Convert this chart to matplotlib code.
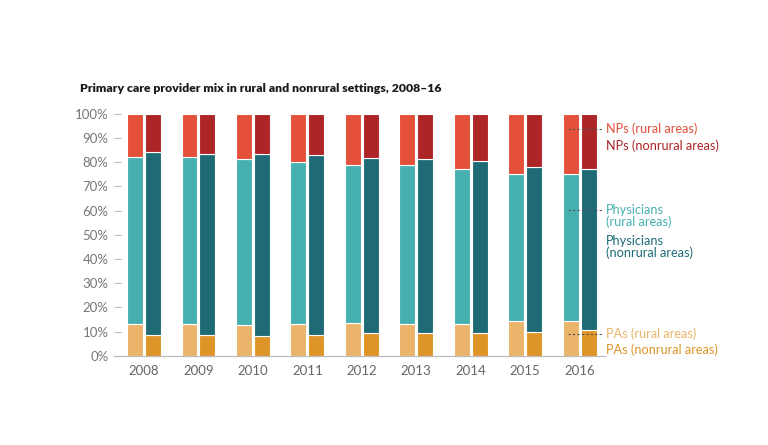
import numpy as np
import matplotlib.pyplot as plt

years = ["2008", "2009", "2010", "2011", "2012", "2013", "2014", "2015", "2016"]

# shares (%)
pa_rural = [13.1, 13.0, 12.6, 13.0, 13.4, 13.2, 13.2, 14.2, 14.2]
phys_rural = [69.2, 69.1, 68.6, 67.0, 65.4, 65.6, 64.2, 60.8, 60.8]
np_rural = [17.7, 17.9, 18.8, 20.0, 21.2, 21.2, 22.6, 25.0, 25.0]

pa_nonrural = [8.7, 8.7, 8.3, 8.7, 9.2, 9.2, 9.5, 9.8, 10.6]
phys_nonrural = [75.7, 74.7, 75.1, 74.3, 72.7, 72.3, 70.9, 68.3, 66.8]
np_nonrural = [15.6, 16.6, 16.6, 17.0, 18.1, 18.5, 19.6, 21.9, 22.6]

c_np_r, c_np_n = "#e4503a", "#ae2527"
c_ph_r, c_ph_n = "#46b0b0", "#1e6b77"
c_pa_r, c_pa_n = "#eab46b", "#df9428"

plt.rcParams['font.family'] = ['Lato', 'DejaVu Sans']

fig = plt.figure(figsize=(7.68, 4.45), dpi=100)
ax = fig.add_axes([0.1484, 0.2007, 0.6393, 0.5434])

x = np.arange(len(years))
w = 0.29
off = 0.165

def stack(xpos, pa, ph, npv, cols):
    pa = np.array(pa) / 100
    ph = np.array(ph) / 100
    npv = np.array(npv) / 100
    kw = dict(width=w, edgecolor="white", linewidth=0.8)
    ax.bar(xpos, pa, color=cols[0], **kw)
    ax.bar(xpos, ph, bottom=pa, color=cols[1], **kw)
    ax.bar(xpos, npv, bottom=pa + ph, color=cols[2], **kw)

stack(x - off, pa_rural, phys_rural, np_rural, [c_pa_r, c_ph_r, c_np_r])
stack(x + off, pa_nonrural, phys_nonrural, np_nonrural, [c_pa_n, c_ph_n, c_np_n])

ax.set_xlim(-0.55, 8.464)
ax.set_ylim(0, 1)
ax.set_yticks(np.arange(0, 1.01, 0.1))
ax.set_yticklabels([f"{int(v)}%" for v in np.arange(0, 101, 10)])
ax.set_xticks(x)
ax.set_xticklabels(years)
ax.tick_params(axis="y", direction="in", length=5, width=0.8, color="#bbbbbb",
               pad=4, labelsize=9.5, labelcolor="#777777")
ax.tick_params(axis="x", length=0, pad=7, labelsize=9.5, labelcolor="#666666")
for s in ["top", "right", "left"]:
    ax.spines[s].set_visible(False)
ax.spines["bottom"].set_color("#bbbbbb")
ax.spines["bottom"].set_linewidth(0.9)

# leader lines and labels on the right
for yy in [0.938, 0.603, 0.09]:
    ax.plot([7.785, 8.42], [yy, yy], linestyle=(0, (2, 2)), color="#555555",
            linewidth=0.8, clip_on=False)

lx = 8.49
labels = [
    ("NPs (rural areas)", 0.9375, c_np_r),
    ("NPs (nonrural areas)", 0.867, c_np_n),
    ("Physicians\n(rural areas)", 0.578, c_ph_r),
    ("Physicians\n(nonrural areas)", 0.4495, c_ph_n),
    ("PAs (rural areas)", 0.09, c_pa_r),
    ("PAs (nonrural areas)", 0.024, c_pa_n),
]
for txt, yy, col in labels:
    ax.text(lx, yy, txt, color=col, fontsize=9.2, va="center", ha="left",
            linespacing=1.0, clip_on=False)

fig.text(80 / 768, 1 - 89 / 445, "Primary care provider mix in rural and nonrural settings, 2008\u201316",
         fontsize=8.8, fontweight="heavy", color="#1a1a1a", va="center", ha="left")

fig.savefig("out.png", dpi=100)
